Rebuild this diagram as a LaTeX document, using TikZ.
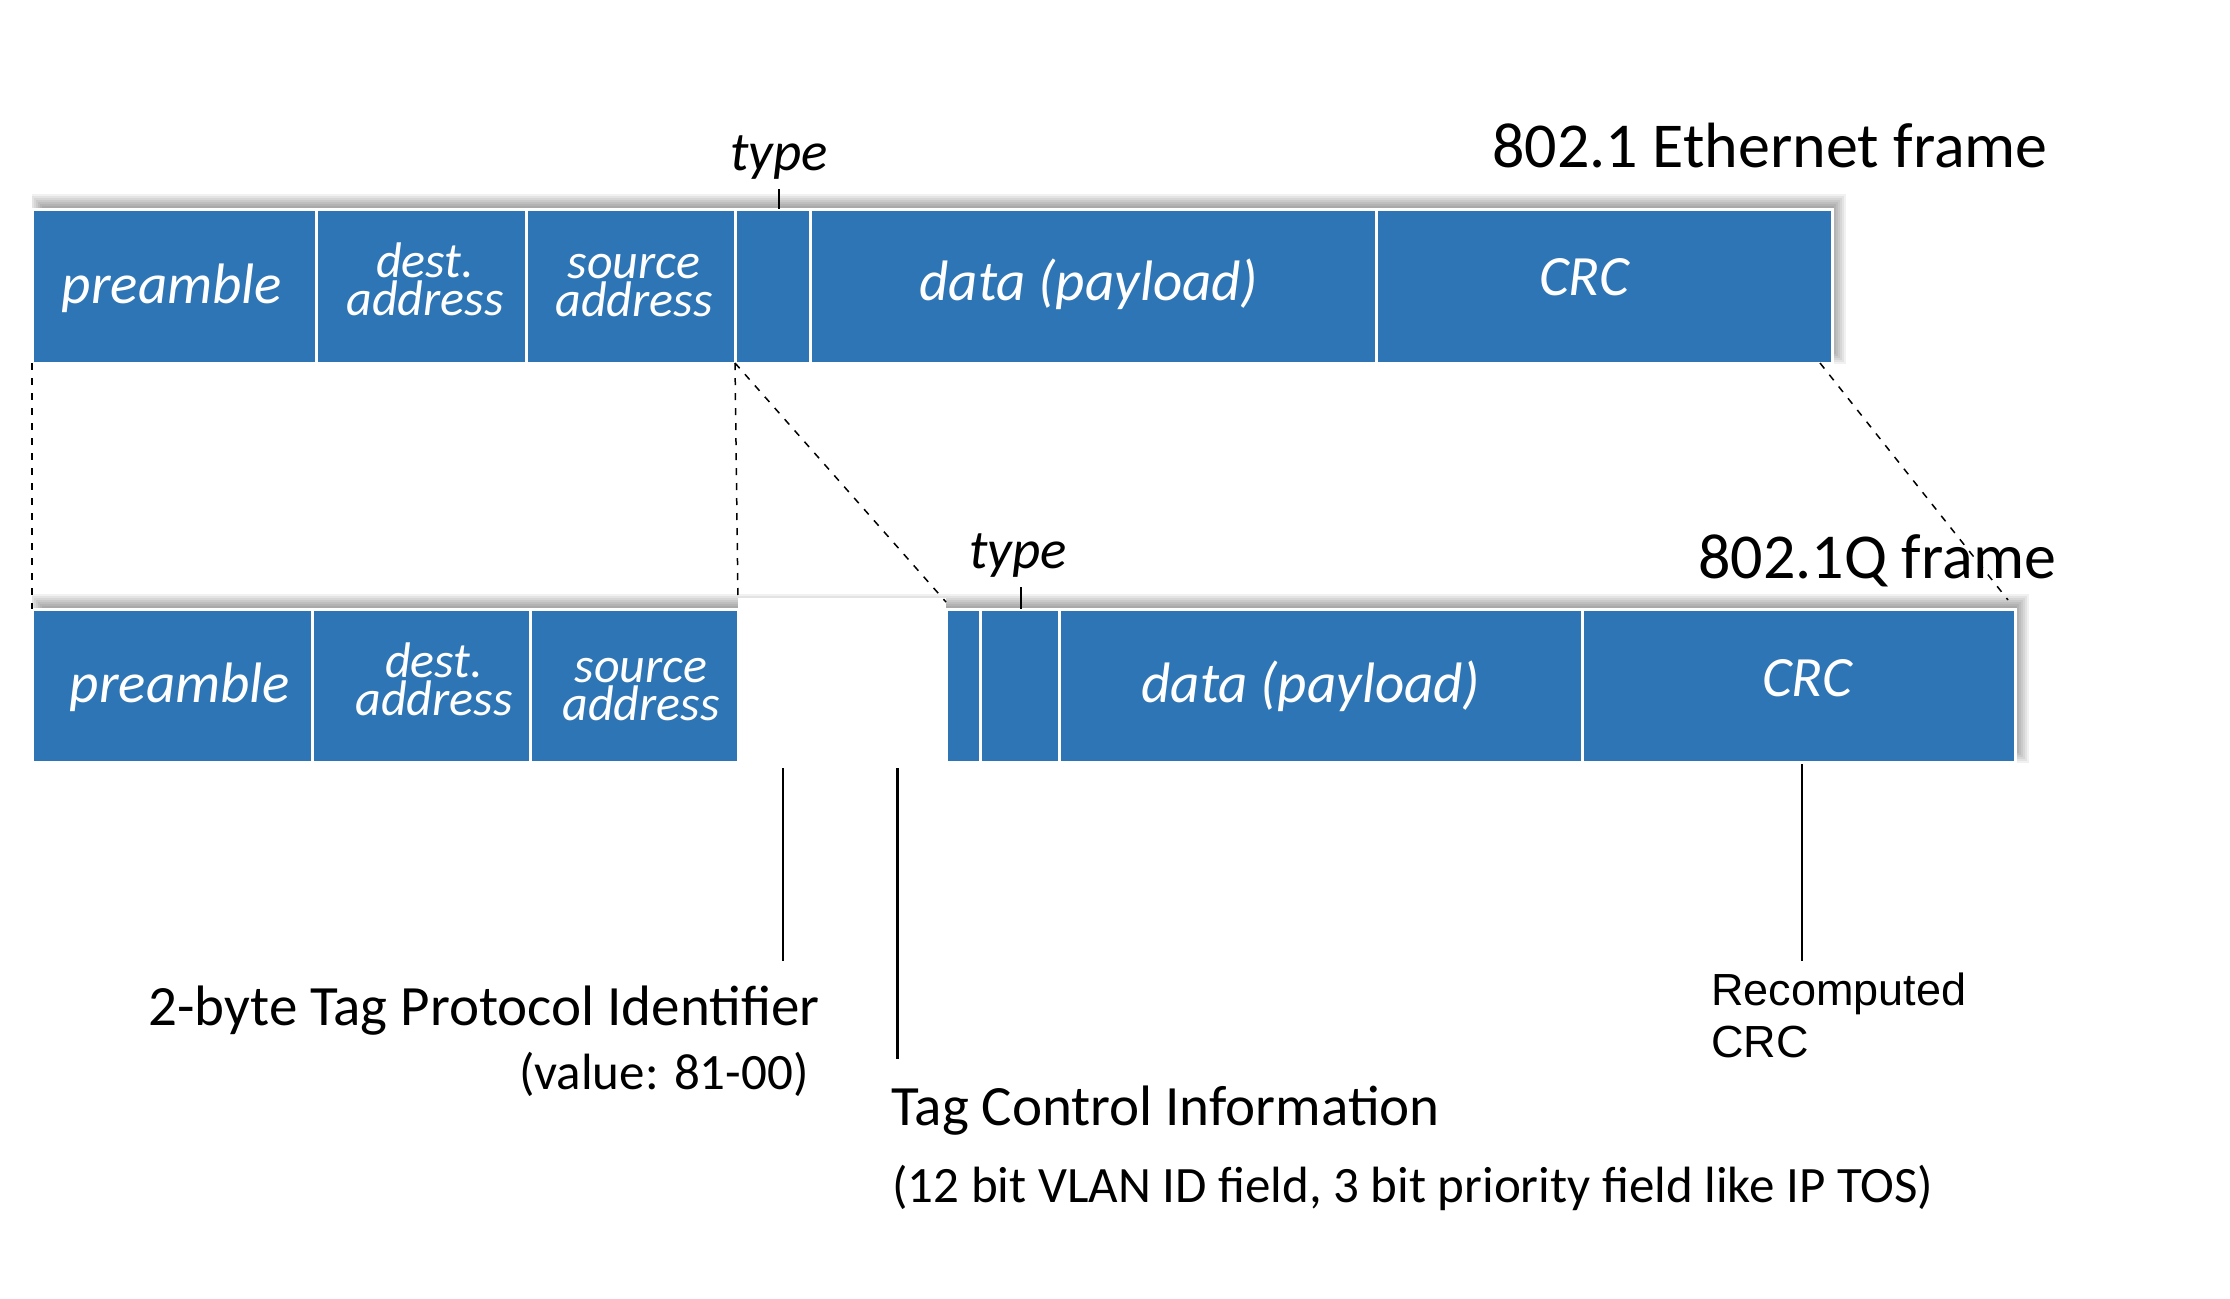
\documentclass[tikz,border=0pt]{standalone}
\usepackage{fontspec}
\setmainfont{Carlito}
\newfontfamily\arialfont{Liberation Sans}
\usetikzlibrary{calc}
\definecolor{fieldblue}{HTML}{2E75B6}
\begin{document}
\begin{tikzpicture}[x=0.5pt,y=-0.5pt,
  fieldbox/.style={draw=white, line width=1.5pt, fill=fieldblue, inner sep=0pt, outer sep=0pt},
  toprow/.style={fieldbox, minimum height=77pt},
  botrow/.style={fieldbox, minimum height=76.5pt},
  flabel/.style={text=white, font=\fontsize{28.5}{30}\selectfont\itshape, anchor=base, inner sep=0pt},
  alabel/.style={text=white, font=\fontsize{25}{19}\selectfont\itshape, align=center, anchor=center, inner sep=0pt},
  typelbl/.style={text=black, font=\fontsize{27.5}{29}\selectfont\itshape, anchor=base, inner sep=0pt},
  titlelbl/.style={text=black, font=\fontsize{32}{34}\selectfont, anchor=base west, inner sep=0pt},
  biglbl/.style={text=black, font=\fontsize{28.5}{30}\selectfont, inner sep=0pt},
  smalllbl/.style={text=black, font=\fontsize{25.5}{27}\selectfont, inner sep=0pt},
  arlbl/.style={text=black, font=\arialfont\fontsize{22.5}{26}\selectfont, align=left, anchor=base west, inner sep=0pt},
  dashline/.style={black, line width=0.75pt, dash pattern=on 3.5pt off 4pt},
  tick/.style={black, line width=0.8pt},
  thickline/.style={black, line width=1.5pt},
  shadowlayer/.style={black, opacity=0.055}
]
\useasboundingbox (0,0) rectangle (2230,1298);
\fill[white] (0,0) rectangle (2230,1298);

% shadows
\begin{scope}
  \clip (32,150) rectangle (1900,363);
  \foreach \r in {-8,-6,-4,-2,0,2,4,6,8}
    \fill[shadowlayer] ({38-\r},{202-\r}) rectangle ({1838+\r},{356+\r});
\end{scope}
\begin{scope}
  \clip (32,550) rectangle (2100,762);
  \foreach \r in {-8,-6,-4,-2,0,2,4,6,8}
    \fill[shadowlayer] ({38-\r},{602-\r}) rectangle ({2021+\r},{755+\r});
\end{scope}
\fill[white] (738,598) rectangle (946,775);

% top frame
\node[toprow, minimum width=142pt]   (tpre) at (174,286) {};
\node[toprow, minimum width=105pt]   (tdst) at (421,286) {};
\node[toprow, minimum width=104.5pt] (tsrc) at (630.5,286) {};
\node[toprow, minimum width=37.5pt]  (ttyp) at (772.5,286) {};
\node[toprow, minimum width=283pt]   (tdat) at (1093,286) {};
\node[toprow, minimum width=228pt]   (tcrc) at (1604,286) {};

\node[flabel] (tpreL) at (172,303) {preamble};
\node[alabel] (tdstL) at (425,279) {dest.\\address};
\node[alabel] (tsrcL) at (634,286) {source\\address};
\node[flabel] (tdatL) at (1089,300) {data (payload)};
\node[flabel] (tcrcL) at (1584,295) {CRC};

% bottom frame
\node[botrow, minimum width=140pt]   (bpre) at (172,685.5) {};
\node[botrow, minimum width=109pt]   (bdst) at (421,685.5) {};
\node[botrow, minimum width=104pt]   (bsrc) at (634,685.5) {};
\node[botrow, minimum width=17pt]    (bnar) at (963,685.5) {};
\node[botrow, minimum width=39.5pt]  (btyp) at (1019.5,685.5) {};
\node[botrow, minimum width=261.5pt] (bdat) at (1320.5,685.5) {};
\node[botrow, minimum width=216.5pt] (bcrc) at (1798.5,685.5) {};

\node[flabel] (bpreL) at (180,702) {preamble};
\node[alabel] (bdstL) at (434,679) {dest.\\address};
\node[alabel] (bsrcL) at (641,690) {source\\address};
\node[flabel] (bdatL) at (1311,702) {data (payload)};
\node[flabel] (bcrcL) at (1807,696) {CRC};

% type labels and ticks
\node[typelbl] (ttypeL) at (779,170) {type};
\node[typelbl] (btypeL) at (1018,568) {type};
\coordinate (tt1) at (779,189);
\coordinate (bt1) at (1021,587);
\draw[tick] (tt1) -- (tt1 |- ttyp.north);
\draw[tick] (bt1) -- (bt1 |- btyp.north);

% titles
\node[titlelbl] (title1) at (1492,167) {802.1 Ethernet frame};
\node[titlelbl] (title2) at (1698,578) {802.1Q frame};

% dashed mapping lines
\draw[dashline] (tpre.south west) -- (bpre.north west);
\draw[dashline] (tsrc.south east) -- ($(bsrc.north east)+(0,-7)$);
\draw[dashline] (tsrc.south east) -- ($(bnar.north west)+(0,-7)$);
\draw[dashline] ($(tcrc.south east)+(-12,0)$) -- ($(bcrc.north east)+(-7,-9)$);

% callout lines
\coordinate (tpidA) at (783,768);
\coordinate (tpidB) at (783,961);
\coordinate (tciA) at (897,768);
\coordinate (tciB) at (897,1059);
\coordinate (crcA) at (1802,764);
\coordinate (crcB) at (1802,961);
\draw[tick] (tpidA) -- (tpidB);
\draw[thickline] (tciA) -- (tciB);
\draw[tick] (crcA) -- (crcB);

% callout texts
\node[biglbl, anchor=base east] (tpidL) at (820,1025) {2-byte Tag Protocol Identifier};
\node[smalllbl, anchor=base east] (tpidV) at (809,1089) {(value: 81-00)};
\node[biglbl, anchor=base west] (tciL) at (891,1125) {Tag Control Information};
\node[smalllbl, anchor=base west] (tciV) at (892,1202) {(12 bit VLAN ID field, 3 bit priority field like IP TOS)};
\node[arlbl] (recL) at (1711,1057) {Recomputed\\CRC};
\end{tikzpicture}
\end{document}
